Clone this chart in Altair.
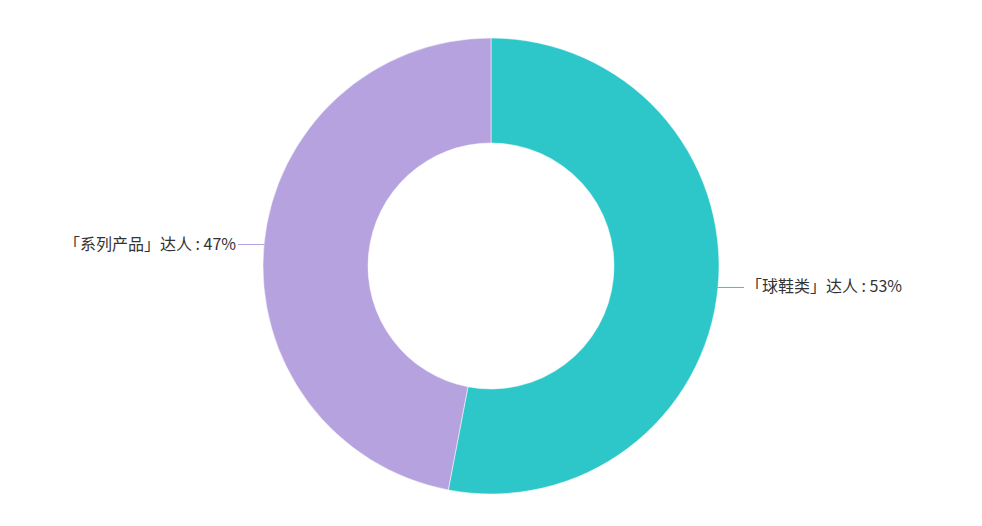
import altair as alt
import pandas as pd

categories = ["「球鞋类」达人", "「系列产品」达人"]
values = [53, 47]
orders = [0, 1]
colors = ["#2ec7c9", "#b6a2de"]

df = pd.DataFrame({"cat": categories, "value": values, "ord": orders})

W, H = 966, 510
CX, CY = 483, 258
R_OUT, R_IN = 228, 123
LEN = 26
GAP = 2

color_scale = alt.Scale(domain=categories, range=colors)

arcs = alt.Chart(df).mark_arc(outerRadius=R_OUT, innerRadius=R_IN, stroke="#ffffff", strokeWidth=0.5).encode(
    theta=alt.Theta("value:Q", stack=True, scale=alt.Scale(type="linear", range=[0, 6.283185307179586])),
    order=alt.Order("ord:Q"),
    color=alt.Color("cat:N", scale=color_scale, legend=None),
    x=alt.value(CX),
    y=alt.value(CY),
)

base = alt.Chart(df).transform_window(
    cum="sum(value)", sort=[alt.SortField("ord")], frame=[None, 0]
).transform_joinaggregate(total="sum(value)").transform_calculate(
    mid="2*PI*(datum.cum - datum.value/2)/datum.total"
).transform_calculate(
    sx=f"{R_OUT}*sin(datum.mid)",
    sy=f"{R_OUT}*cos(datum.mid)",
    side="sin(datum.mid) >= 0 ? 1 : -1",
).transform_calculate(
    ex=f"datum.sx + datum.side*{LEN}",
).transform_calculate(
    tx=f"datum.ex + datum.side*{GAP}",
    label="datum.cat + ' : ' + format(datum.value/datum.total, '.0%')",
)

xs = alt.Scale(domain=[-CX, W - CX], range=[0, W])
ys = alt.Scale(domain=[-(H - CY), CY], range=[H, 0])

lines = base.mark_rule(strokeWidth=1).encode(
    x=alt.X("sx:Q", scale=xs, axis=None),
    x2="ex:Q",
    y=alt.Y("sy:Q", scale=ys, axis=None),
    color=alt.Color("cat:N", scale=color_scale, legend=None),
)

text_right = base.transform_filter("datum.side > 0").mark_text(
    align="left", baseline="middle", fontSize=16, font="Noto Sans CJK SC", color="#333333"
).encode(
    x=alt.X("tx:Q", scale=xs, axis=None),
    y=alt.Y("sy:Q", scale=ys, axis=None),
    text="label:N",
)

text_left = base.transform_filter("datum.side < 0").mark_text(
    align="right", baseline="middle", fontSize=16, font="Noto Sans CJK SC", color="#333333"
).encode(
    x=alt.X("tx:Q", scale=xs, axis=None),
    y=alt.Y("sy:Q", scale=ys, axis=None),
    text="label:N",
)

chart = alt.layer(arcs, lines, text_right, text_left).properties(
    width=W, height=H, padding=0, autosize=alt.AutoSizeParams(type="none"),
    background="#ffffff",
).configure_view(stroke=None)

chart.save("out.html", embed_options={"renderer": "svg", "actions": False})
